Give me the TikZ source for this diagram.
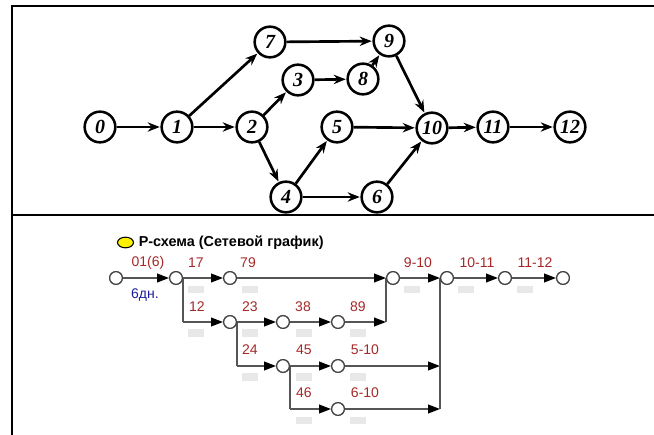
\documentclass[tikz,border=0pt]{standalone}
\usepackage{fontspec}
\setmainfont{Liberation Sans}
\newfontfamily\numfont{Liberation Serif}
\usetikzlibrary{arrows.meta,shapes.geometric}
\definecolor{lblred}{RGB}{165,40,40}
\definecolor{lblblue}{RGB}{30,30,160}
\definecolor{lnGray}{RGB}{85,85,85}
\definecolor{boxGray}{RGB}{232,232,232}
\tikzset{
  frameline/.style={line width=1.5pt,black},
  tnode/.style={circle,draw=black,line width=1.9pt,minimum size=23pt,inner sep=0pt,fill=white,
     font=\numfont\bfseries\itshape\fontsize{15}{15}\selectfont},
  tedge/.style={line width=2pt,-{Stealth[length=9pt,width=7pt]},shorten >=0.5pt},
  bnode/.style={circle,draw=black!75,line width=0.9pt,fill=white,minimum size=9.5pt,inner sep=0pt},
  bline/.style={draw=lnGray,line width=1.3pt},
  barr/.style={bline,arrows={-{Triangle[length=9pt,width=6.5pt,color=black]}}},
  lbl/.style={text=lblred,font=\fontsize{10.5}{10.5}\selectfont,inner sep=0pt},
  gbox/.style={fill=boxGray,minimum width=12pt,minimum height=5.5pt,inner sep=0pt,draw=none},
}
\begin{document}
\begin{tikzpicture}[x=0.75pt,y=-0.75pt]
\useasboundingbox (0,0) rectangle (654,435);
% frame
\draw[frameline] (654,6) -- (12,6) -- (12,435);
\draw[frameline] (12,215) -- (654,215);

% ---------- top graph ----------
\node[tnode] (t0) at (100,127) {0};
\node[tnode] (t1) at (177,127) {1};
\node[tnode] (t2) at (252,127) {2};
\node[tnode] (t7) at (270,42) {7};
\node[tnode] (t9) at (389,41) {9};
\node[tnode] (t3) at (298,80) {3};
\node[tnode] (t8) at (363,79) {8};
\node[tnode] (t5) at (337,127) {5};
\node[tnode] (t10) at (432,128) {10};
\node[tnode] (t11) at (493,127) {11};
\node[tnode] (t12) at (570,127) {12};
\node[tnode] (t4) at (286,197) {4};
\node[tnode] (t6) at (377,197) {6};
\draw[tedge] (t0) -- (t1);
\draw[tedge] (t1) -- (t7);
\draw[tedge] (t1) -- (t2);
\draw[tedge] (t2) -- (t3);
\draw[tedge] (t2) -- (t4);
\draw[tedge] (t7) -- (t9);
\draw[tedge] (t3) -- (t8);
\draw[tedge] (t8) -- (t9);
\draw[tedge] (t9) -- (t10);
\draw[tedge] (t5) -- (t10);
\draw[tedge] (t4) -- (t5);
\draw[tedge] (t4) -- (t6);
\draw[tedge] (t6) -- (t10);
\draw[tedge] (t10) -- (t11);
\draw[tedge] (t11) -- (t12);

% ---------- bottom graph ----------
\node[ellipse,draw=black,line width=0.8pt,fill=yellow,minimum width=12pt,minimum height=8pt,inner sep=0pt] (leg) at (125.5,242.5) {};
\node[anchor=west,inner sep=0pt,font=\bfseries\fontsize{10.8}{10.8}\selectfont] (legt) at (138.5,242.5) {Р-схема (Сетевой график)};

% nodes
\node[bnode] (a) at (116,278) {};
\node[bnode] (b) at (176,278) {};
\node[bnode] (c) at (230,278) {};
\node[bnode] (d) at (393,278) {};
\node[bnode] (e) at (447,278) {};
\node[bnode] (f) at (505,278) {};
\node[bnode] (g) at (563,278) {};
\node[bnode] (r2a) at (230,322) {};
\node[bnode] (r2b) at (283,322) {};
\node[bnode] (r2c) at (338,322) {};
\node[bnode] (r3a) at (283,366) {};
\node[bnode] (r3b) at (338,366) {};
\node[bnode] (r4a) at (338,409) {};

% junction coordinates
\coordinate (jb) at (b.east |- r2a);
\coordinate (jr2) at (r2a.east |- r3a);
\coordinate (jr3) at (r3a.east |- r4a);
\coordinate (jd) at (d.west |- r2c);
\coordinate (je3) at (e.west |- r3b);
\coordinate (je4) at (e.west |- r4a);

% lines, row 1
\draw[barr] (a) -- (b);
\draw[barr] (b) -- (c);
\draw[barr] (c) -- (d);
\draw[barr] (d) -- (e);
\draw[barr] (e) -- (f);
\draw[barr] (f) -- (g);
% row 2
\draw[bline] (b.east) -- (jb);
\draw[barr] (jb) -- (r2a);
\draw[barr] (r2a) -- (r2b);
\draw[barr] (r2b) -- (r2c);
\draw[barr] (r2c) -- (jd);
\draw[bline] (jd) -- (d.west);
% row 3
\draw[bline] (r2a.east) -- (jr2);
\draw[barr] (jr2) -- (r3a);
\draw[barr] (r3a) -- (r3b);
\draw[barr] (r3b) -- (je3);
% row 4
\draw[bline] (r3a.east) -- (jr3);
\draw[barr] (jr3) -- (r4a);
\draw[barr] (r4a) -- (je4);
\draw[bline] (e.west) -- (je4);

% redraw nodes on top
\foreach \n/\x/\y in {a/116/278,b/176/278,c/230/278,d/393/278,e/447/278,f/505/278,g/563/278,
  r2a/230/322,r2b/283/322,r2c/338/322,r3a/283/366,r3b/338/366,r4a/338/409}
  \node[bnode] at (\x,\y) {};

% labels
\node[lbl] (l01) at (148,263) {01(6)};
\node[lbl] (l17) at (196,263) {17};
\node[lbl] (l79) at (248,263) {79};
\node[lbl] (l910) at (418,263) {9-10};
\node[lbl] (l1011) at (477,263) {10-11};
\node[lbl] (l1112) at (535,263) {11-12};
\node[lbl] (l12) at (197,307) {12};
\node[lbl] (l23) at (250,307) {23};
\node[lbl] (l38) at (303,307) {38};
\node[lbl] (l89) at (358,307) {89};
\node[lbl] (l24) at (250,350) {24};
\node[lbl] (l45) at (304,350) {45};
\node[lbl] (l510) at (365,350) {5-10};
\node[lbl] (l46) at (304,393) {46};
\node[lbl] (l610) at (365,393) {6-10};
\node[lbl,text=lblblue] (ldays) at (145,295) {6дн.};

% grey boxes
\node[gbox] (g1a) at (195.5,289.5) {};
\node[gbox] (g1b) at (249.5,289.5) {};
\node[gbox] (g1c) at (412,289.5) {};
\node[gbox] (g1d) at (466,289.5) {};
\node[gbox] (g1e) at (524.5,289.5) {};
\node[gbox] (g2a) at (195.5,333) {};
\node[gbox] (g2b) at (250,333) {};
\node[gbox] (g2c) at (304,333) {};
\node[gbox] (g2d) at (358,333) {};
\node[gbox] (g3a) at (250,377) {};
\node[gbox] (g3b) at (304,377) {};
\node[gbox] (g3c) at (358,377) {};
\node[gbox] (g4a) at (304,420.5) {};
\node[gbox] (g4b) at (358,420.5) {};
\end{tikzpicture}
\end{document}
